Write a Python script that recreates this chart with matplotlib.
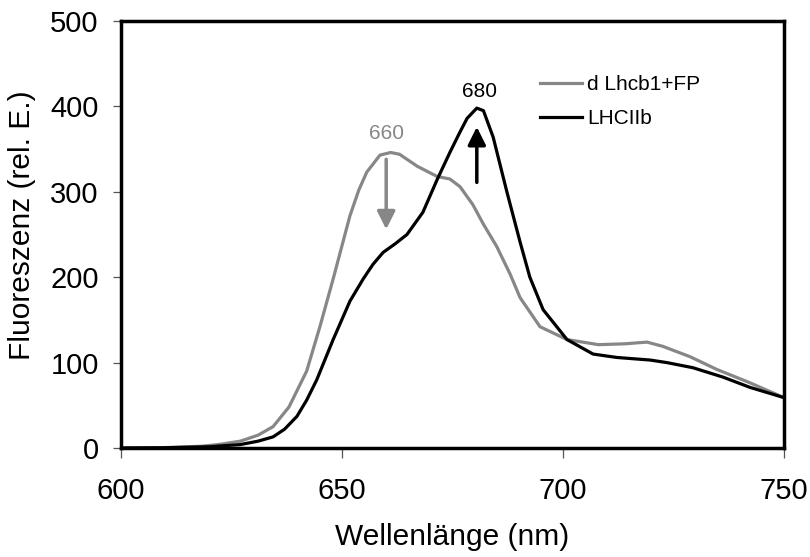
import matplotlib
matplotlib.use('Agg')
import matplotlib.pyplot as plt

plt.rcParams['font.family'] = ['Liberation Sans', 'DejaVu Sans']

# d Lhcb1+FP (grau)
nm_fp = [600, 610, 618, 622, 627, 631, 634.4, 638, 642, 645, 648, 651.8, 653.8,
         655.6, 658.6, 661, 663, 667, 671.5, 674.4, 676.7, 679.6, 682, 685, 688,
         690.3, 694.8, 700.9, 708, 714, 719, 722.6, 728.7, 734.8, 742, 750]
fl_fp = [0, 0.5, 2, 4, 8, 15, 25, 48, 90, 142, 198, 272, 302,
         323, 343, 346, 344, 330, 318, 315, 306, 285, 262, 236, 204,
         176, 142, 127, 121, 122, 124, 119, 107, 92, 77, 59]

# LHCIIb (schwarz)
nm_lhc = [600, 610, 620, 627, 631, 634.4, 637, 639.8, 642, 644.3, 648, 651.8,
          654.8, 657, 659.3, 662, 664.7, 668.3, 671.5, 674.4, 676.5, 678.3,
          680.5, 682, 684.2, 687.3, 690.3, 692.5, 695.5, 700.9, 706.8, 712.2,
          719.7, 723.5, 729.4, 736.2, 742.3, 750]
fl_lhc = [0, 0.3, 1.5, 4, 8, 13, 22, 37, 56, 80, 127, 172,
          198, 215, 229, 239, 250, 276, 314, 346, 368, 386,
          398, 395, 364, 300, 241, 200, 162, 127, 110, 106,
          103, 100, 94, 83, 71, 59]

gray = '#878787'

fig = plt.figure(figsize=(8.1, 5.57), dpi=100)
ax = fig.add_axes([121 / 810, 1 - 448 / 557, 663 / 810, 427 / 557])

ax.plot(nm_fp, fl_fp, color=gray, lw=2.3, label='d Lhcb1+FP', solid_joinstyle='round')
ax.plot(nm_lhc, fl_lhc, color='black', lw=2.3, label='LHCIIb', solid_joinstyle='round')

ax.set_xlim(600, 750)
ax.set_ylim(0, 500)
ax.set_xticks([600, 650, 700, 750])
ax.set_yticks(range(0, 501, 100))

for s in ax.spines.values():
	s.set_linewidth(2.5)

ax.tick_params(axis='x', direction='out', length=7, width=0.9, color='#555555',
			   labelsize=21, pad=14)
ax.tick_params(axis='y', direction='out', length=6, width=0.9, color='#555555',
			   labelsize=21, pad=10)

# Pfeile und Peak-Beschriftungen
ax.annotate('', xy=(660, 256), xytext=(660, 338),
			arrowprops=dict(arrowstyle='-|>,head_length=0.6,head_width=0.3',
							mutation_scale=18, lw=2.5, color=gray,
							shrinkA=0, shrinkB=0))
ax.annotate('', xy=(680.5, 376), xytext=(680.5, 311),
			arrowprops=dict(arrowstyle='-|>,head_length=0.6,head_width=0.3',
							mutation_scale=18, lw=2.5, color='black',
							shrinkA=0, shrinkB=0))
ax.text(660, 368, '660', color=gray, fontsize=15, ha='center', va='center')
ax.text(681, 418, '680', color='black', fontsize=15, ha='center', va='center')

ax.legend(loc='upper left', bbox_to_anchor=(0.632, 0.873), frameon=False,
		  fontsize=15, handlelength=2.0, handletextpad=0.25, borderpad=0,
		  borderaxespad=0, labelspacing=0.7)

fig.text(452 / 810, 1 - 537 / 557, 'Wellenlänge (nm)', ha='center', va='center',
		 fontsize=21.5)
fig.text(22 / 810, 1 - 225 / 557, 'Fluoreszenz (rel. E.)', ha='center', va='center',
		 rotation='vertical', fontsize=21.5)

fig.savefig('out.png', dpi=100)
